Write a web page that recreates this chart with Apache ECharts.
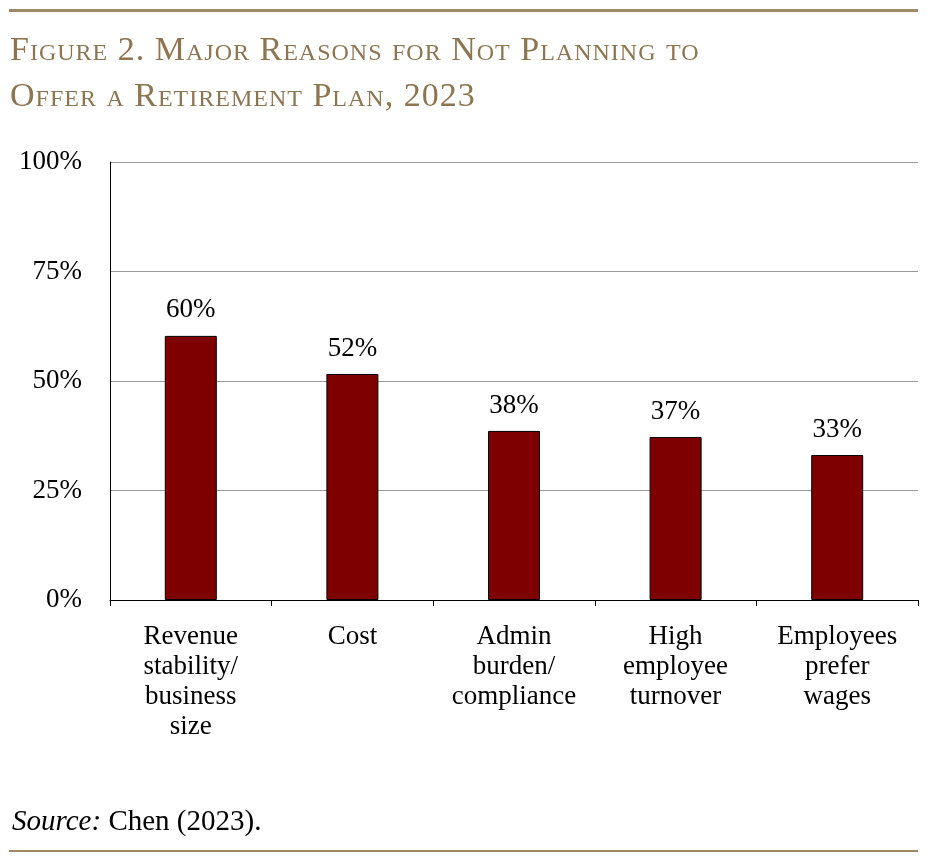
<!DOCTYPE html>
<html><head><meta charset="utf-8">
<script src="https://cdn.jsdelivr.net/npm/echarts@6/dist/echarts.min.js"></script>
<style>
body{margin:0;width:927px;height:861px;background:#fff;position:relative;font-family:"Liberation Serif",serif;}
#rt{position:absolute;left:9px;right:9px;top:9px;border-top:3px solid #9C8A66;}
#rb{position:absolute;left:9px;right:9px;top:850px;border-top:2px solid #9C8A66;}
#title{position:absolute;left:10px;top:26px;font-size:34px;line-height:46px;color:#8C7550;font-variant:small-caps;letter-spacing:1px;}
#src{position:absolute;left:12px;top:804px;font-size:29px;color:#000;}
#c{position:absolute;left:0;top:0;width:927px;height:861px;}
</style></head><body>
<div id="c"></div>
<div id="rt"></div>
<div id="title">Figure 2. Major Reasons for Not Planning to<br>Offer a Retirement Plan, 2023</div>
<div id="src"><i>Source:</i> Chen (2023).</div>
<div id="rb"></div>
<script>
const categories=["Revenue\nstability/\nbusiness\nsize","Cost","Admin\nburden/\ncompliance","High\nemployee\nturnover","Employees\nprefer\nwages"];
const values=[60.3,51.6,38.6,37.2,33.1];
const labels=["60%","52%","38%","37%","33%"];
const chart=echarts.init(document.getElementById('c'));
const F="Liberation Serif";
chart.setOption({
 animation:false,
 grid:{left:110,right:9,top:162,bottom:261},
 xAxis:{type:'category',data:categories,
  axisLine:{lineStyle:{color:'#000'}},
  axisTick:{show:true,length:6,lineStyle:{color:'#000'}},
  axisLabel:{color:'#000',fontFamily:F,fontSize:27,lineHeight:30,margin:22,interval:0}},
 yAxis:{type:'value',min:0,max:100,interval:25,
  axisLine:{show:true,lineStyle:{color:'#000'}},
  axisTick:{show:false},
  splitLine:{lineStyle:{color:'#999'}},
  axisLabel:{formatter:'{value}%',color:'#000',fontFamily:F,fontSize:27,margin:28}},
 series:[{type:'bar',data:values,barWidth:52,
  itemStyle:{color:'#7F0000',borderColor:'#000',borderWidth:1},
  label:{show:true,position:'top',distance:12,fontFamily:F,fontSize:27,color:'#000',
   formatter:p=>labels[p.dataIndex]}}]
});
</script></body></html>
